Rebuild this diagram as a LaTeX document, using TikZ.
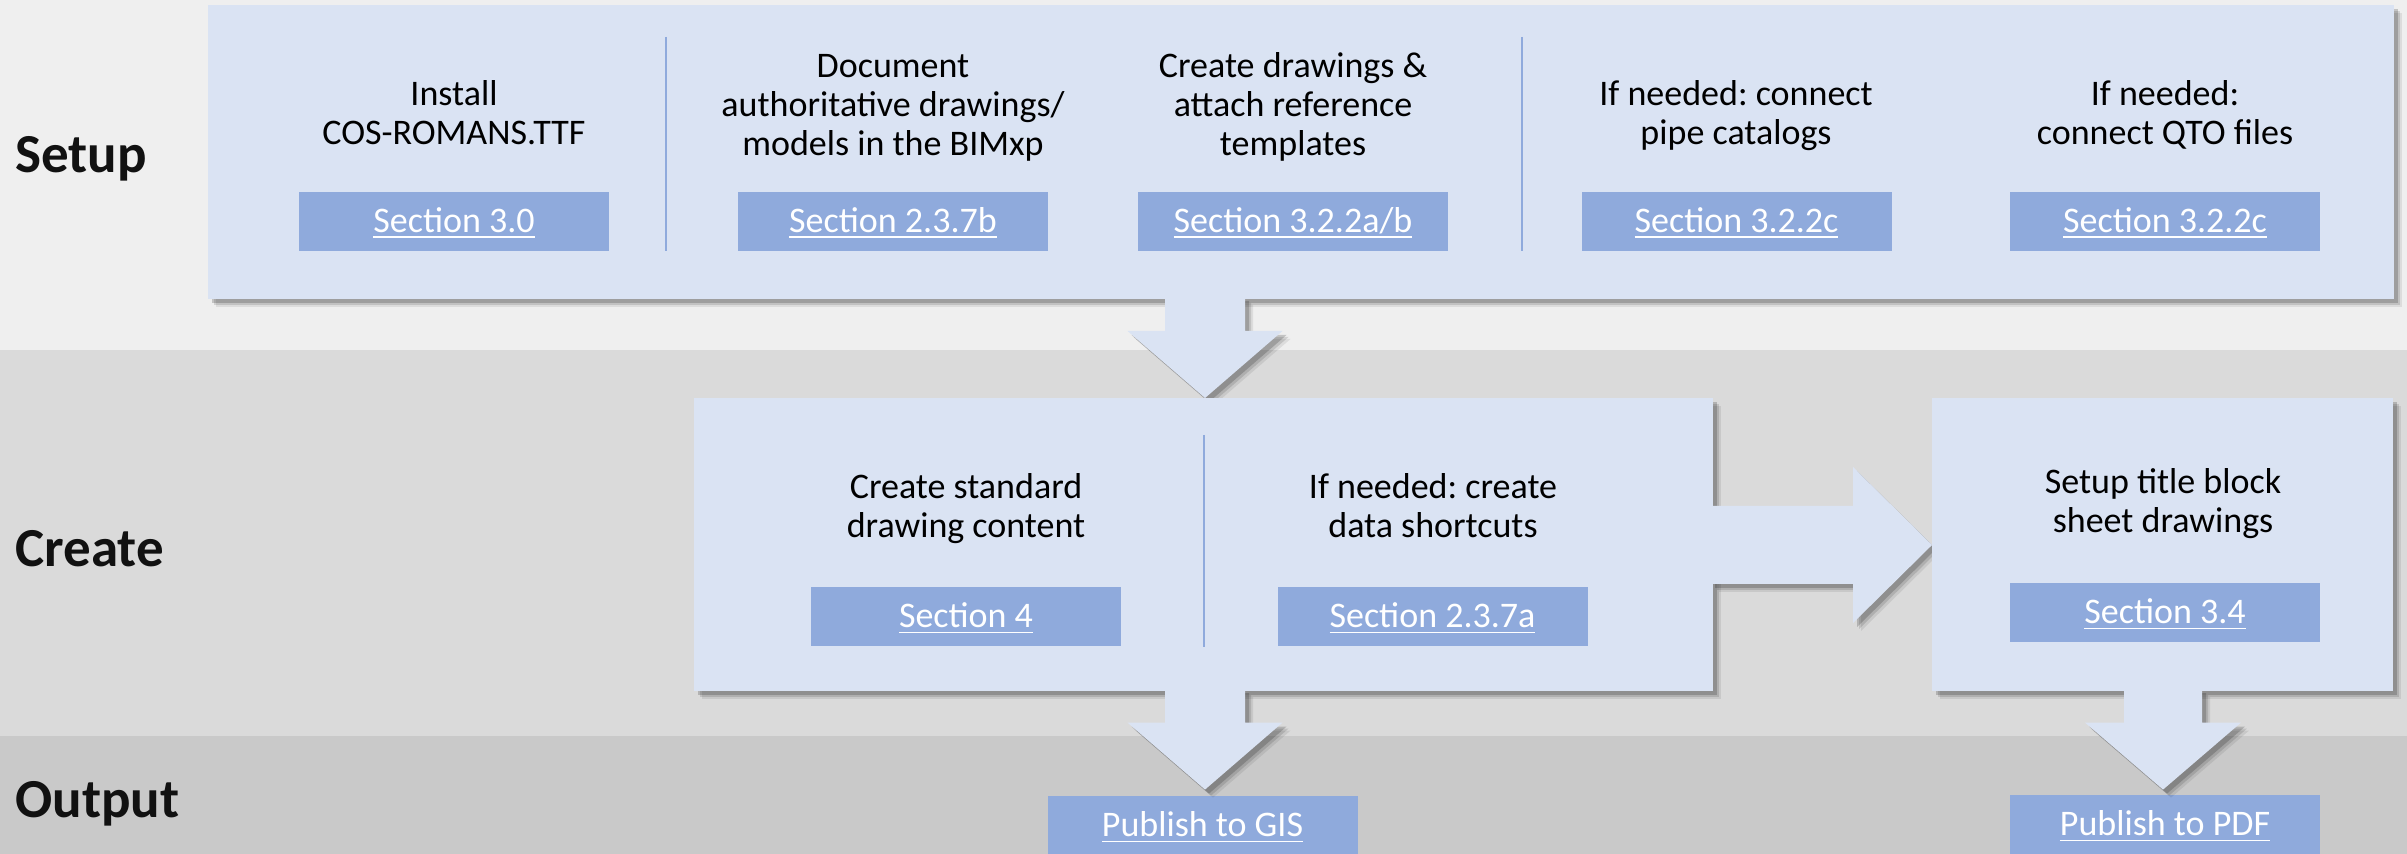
\documentclass[tikz,border=0pt]{standalone}
\usepackage{fontspec}
\setmainfont{Carlito}
\frenchspacing
\usetikzlibrary{shadows,calc}
\definecolor{bandA}{HTML}{EFEFEF}
\definecolor{bandB}{HTML}{DADADA}
\definecolor{bandC}{HTML}{C9C9C9}
\definecolor{boxfill}{HTML}{DAE3F3}
\definecolor{linkfill}{HTML}{8FAADC}
\definecolor{labelcol}{HTML}{111111}
\newcommand\lnk[1]{\setbox0\hbox{#1}\rlap{\rule[-2.6pt]{\wd0}{0.8pt}}\box0}
\newcommand\arrdown[5]{%
  \path[stage] let \p1=(#1), \p2=(#2) in
    (\x1-#3,\y1+1pt) -- (\x1+#3,\y1+1pt) -- (\x1+#3,\y2+#5) -- (\x1+#4,\y2+#5)
    -- (\x1,\y2) -- (\x1-#4,\y2+#5) -- (\x1-#3,\y2+#5) -- cycle;}
\newcommand\arrright[5]{%
  \path[stage] let \p1=(#1), \p2=(#2) in
    (\x1-1pt,\y1+#3) -- (\x2-#5,\y1+#3) -- (\x2-#5,\y1+#4) -- (\x2,\y1)
    -- (\x2-#5,\y1-#4) -- (\x2-#5,\y1-#3) -- (\x1-1pt,\y1-#3) -- cycle;}
\tikzset{
  shade/.style={
    drop shadow={shadow xshift=4pt, shadow yshift=-4pt, opacity=0.08, fill=black},
    drop shadow={shadow xshift=3pt, shadow yshift=-3pt, opacity=0.12, fill=black},
    drop shadow={shadow xshift=2pt, shadow yshift=-2pt, opacity=0.18, fill=black}},
  stage/.style={fill=boxfill, shade},
  stagebox/.style={stage, anchor=north west, inner sep=0pt, outer sep=0pt},
  linkbox/.style={fill=linkfill, text=white, minimum width=155pt, minimum height=29.5pt,
    inner sep=0pt, text height=11.4pt, text depth=0pt, font=\fontsize{18}{19.5}\selectfont},
  desc/.style={anchor=north, align=center, inner sep=0pt, text=black, font=\fontsize{18}{19.5}\selectfont},
  lane/.style={anchor=base west, inner sep=0pt, text=labelcol, font=\fontsize{27.5}{30}\selectfont\bfseries},
  divider/.style={draw=linkfill, line width=1pt},
}
\begin{document}
\begin{tikzpicture}[x=0.5pt, y=-0.5pt]
\useasboundingbox (0,0) rectangle (2407,854);
% bands
\fill[bandA] (0,0) rectangle (2407,350);
\fill[bandB] (0,350) rectangle (2407,736);
\fill[bandC] (0,736) rectangle (2407,854);
\node[lane] (lsetup) at (15,173) {Setup};
\node[lane] (lcreate) at (15,567) {Create};
\node[lane] (loutput) at (15,817) {Output};
% helper coordinates
\coordinate (colA) at (1205,0);
\coordinate (colB) at (2163,0);
\coordinate (rowA) at (0,545);
% stage boxes and arrows
\node[stagebox, minimum width=1093pt, minimum height=147pt] (setup) at (208,5) {};
\node[linkbox] (gis) at (1202.5,825.5) {\lnk{Publish to GIS}};
\node[linkbox] (pdf) at (2165,824.5) {\lnk{Publish to PDF}};
\node[coordinate] (createtop) at (1205,398) {};
\arrdown{setup.south -| colA}{createtop}{20pt}{38.75pt}{33.5pt}
\node[stagebox, minimum width=509.5pt, minimum height=146.5pt] (create) at (694,398) {};
\node[coordinate] (titleleft) at (1932,545) {};
\arrright{create.east |- rowA}{titleleft}{19.5pt}{39pt}{39.5pt}
\node[stagebox, minimum width=230.5pt, minimum height=146.5pt] (title) at (1932,398) {};
\arrdown{create.south -| colA}{$(gis.north -| colA)+(0,-6)$}{20pt}{38.75pt}{33.5pt}
\arrdown{title.south -| colB}{$(pdf.north -| colB)+(0,-5)$}{19.5pt}{39pt}{33.5pt}
% dividers
\draw[divider] (666,37) -- (666,251);
\draw[divider] (1522,37) -- (1522,251);
\draw[divider] (1204,435) -- (1204,647);
% setup texts
\node[desc] (t1) at (454,77.7) {\strut Install\\COS-ROMANS.TTF\strut};
\node[desc] (t2) at (893,49.7) {\strut Document\\authoritative drawings/\\models in the BIMxp\strut};
\node[desc] (t3) at (1293,49.7) {\strut Create drawings \&\\attach reference\\templates\strut};
\node[desc] (t4) at (1736,77.7) {\strut If needed: connect\\pipe catalogs\strut};
\node[desc] (t5) at (2165,77.7) {\strut If needed:\\connect QTO files\strut};
\node[linkbox] (l1) at (454,221.5) {\lnk{Section 3.0}};
\node[linkbox] (l2) at (893,221.5) {\lnk{Section 2.3.7b}};
\node[linkbox] (l3) at (1293,221.5) {\lnk{Section 3.2.2a/b}};
\node[linkbox] (l4) at (1736.5,221.5) {\lnk{Section 3.2.2c}};
\node[linkbox] (l5) at (2165,221.5) {\lnk{Section 3.2.2c}};
% create texts
\node[desc] (t6) at (966,470.7) {\strut Create standard\\drawing content\strut};
\node[desc] (t7) at (1433,470.7) {\strut If needed: create\\data shortcuts\strut};
\node[desc] (t8) at (2163,465.7) {\strut Setup title block\\sheet drawings\strut};
\node[linkbox] (l6) at (966,616.5) {\lnk{Section 4}};
\node[linkbox] (l7) at (1432.5,616.5) {\lnk{Section 2.3.7a}};
\node[linkbox] (l8) at (2165,612.5) {\lnk{Section 3.4}};
\end{tikzpicture}
\end{document}
